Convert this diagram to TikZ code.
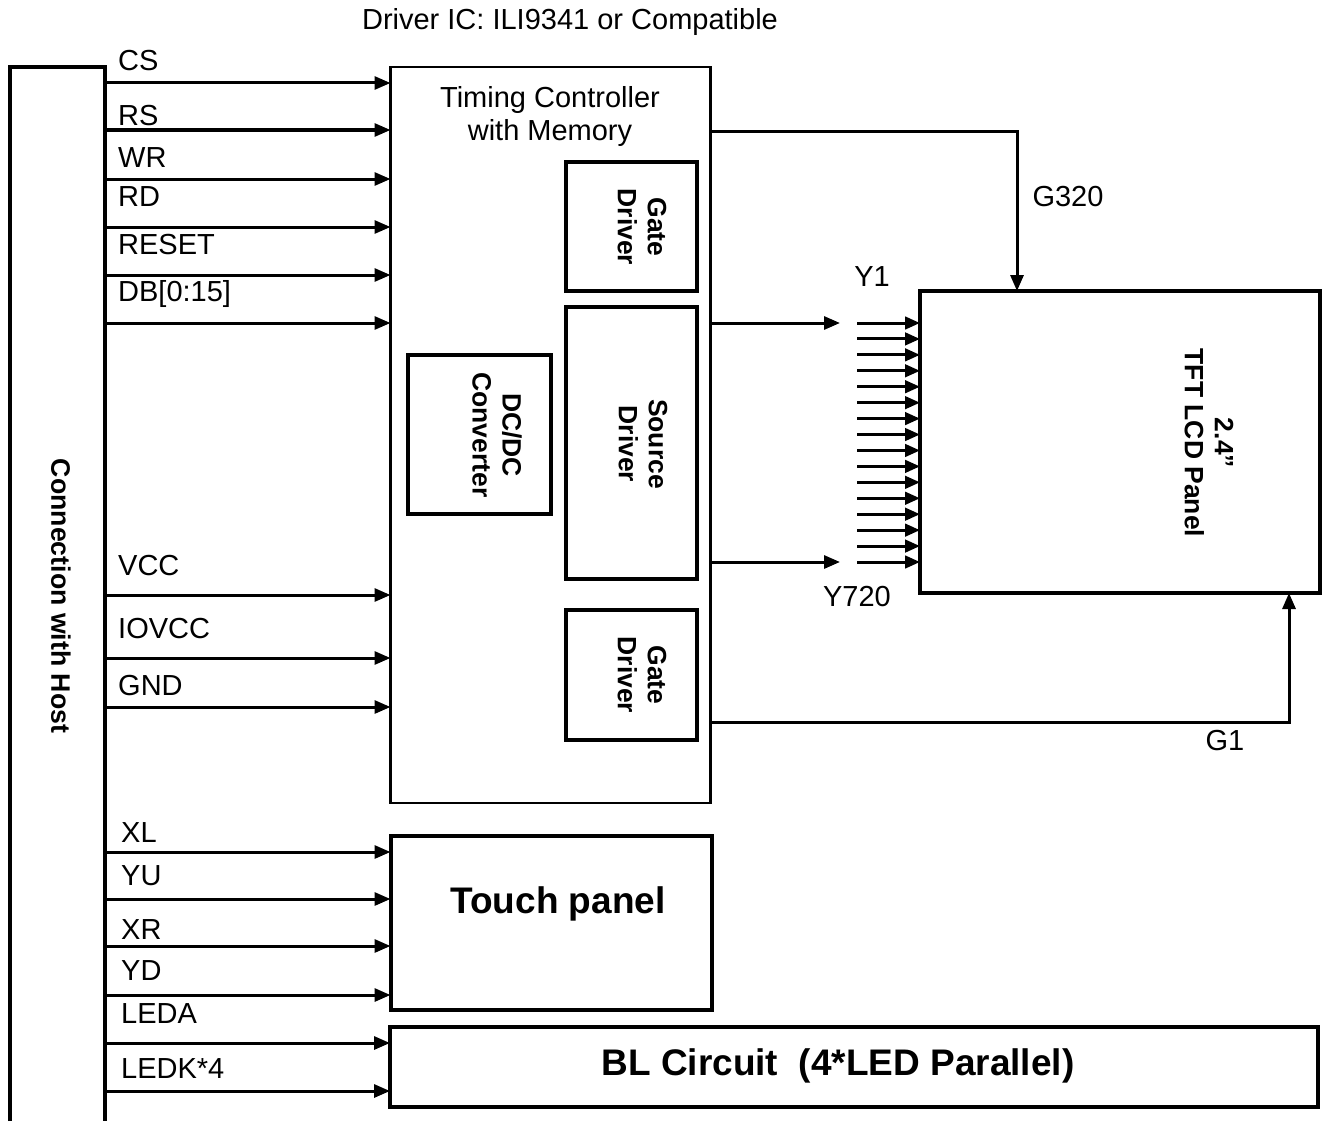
\documentclass[tikz,border=0pt]{standalone}
\usepackage{fontspec}
\setmainfont{Liberation Sans}
\usetikzlibrary{arrows.meta}
\begin{document}
\begin{tikzpicture}[x=1pt,y=-1pt,
  sig/.style={line width=3pt,-{Triangle[length=16pt,width=13pt]}},
  sigs/.style={line width=3pt,-{Triangle[length=15pt,width=12.5pt]}},
  box/.style={draw,line width=4pt,inner sep=0pt,outer sep=0pt},
  thinbox/.style={draw,line width=2.5pt,inner sep=0pt,outer sep=0pt},
  lbl/.style={font=\fontsize{29}{33}\selectfont,inner sep=0pt},
  lbll/.style={lbl,anchor=west},
  blbl/.style={font=\fontsize{26.5}{30}\selectfont\bfseries,align=center,rotate=-90,inner sep=0pt},
  big/.style={font=\fontsize{37}{42}\selectfont\bfseries,inner sep=0pt}]
\useasboundingbox (0,0) rectangle (1324,1121);
% title
\node[lbl] (title) at (570,22) {Driver IC: ILI9341 or Compatible};
% host bus
\draw[line width=4pt] (10,1121) -- (10,67) -- (105,67) -- (105,1121);
\node[blbl,font=\fontsize{26.7}{30}\selectfont\bfseries] (host) at (61,596) {Connection with Host};
% blocks
\node[thinbox,minimum width=320pt,minimum height=736pt] (ic) at (550.5,435) {};
\node[lbl,align=center] (tc) at (550,117) {Timing Controller\\with Memory};
\node[box,minimum width=131pt,minimum height=129pt] (gtop) at (631.5,226.5) {};
\node[blbl] (gtopt) at (642,227) {Gate\\Driver};
\node[box,minimum width=131pt,minimum height=272pt] (src) at (631.5,442.5) {};
\node[blbl] (srct) at (643,444) {Source\\Driver};
\node[box,minimum width=131pt,minimum height=130pt] (gbot) at (631.5,675) {};
\node[blbl] (gbott) at (642,675) {Gate\\Driver};
\node[box,minimum width=143pt,minimum height=159pt] (dcdc) at (479.5,434.5) {};
\node[blbl] (dcdct) at (497,435) {DC/DC\\Converter};
\node[box,minimum width=400pt,minimum height=302pt] (tft) at (1120,442) {};
\node[blbl] (tftt) at (1209,443) {2.4”\\TFT LCD Panel};
\node[box,minimum width=321pt,minimum height=174pt] (touch) at (551,923) {};
\node[big] (toucht) at (558,904) {Touch panel};
\node[box,minimum width=928pt,minimum height=80pt] (bl) at (854,1067) {};
\node[big] (blt) at (838,1066) {BL Circuit\ \ (4*LED Parallel)};
% host signals to IC
\foreach \y/\t/\ly [count=\k] in {83/CS/61,130/RS/116,179/WR/158,227/RD/197,275/RESET/245,323/{DB[0:15]}/294,595/VCC/566,658/IOVCC/629,707/GND/686}{
  \coordinate (h\k) at (105,\y);
  \draw[sig] (h\k) -- (h\k -| ic.west);
  \node[lbll] (l\k) at (118,\ly) {\t};
}
% host signals to touch panel
\foreach \y/\t/\ly [count=\k] in {852/XL/833,899/YU/876,946/XR/930,995/YD/971}{
  \coordinate (t\k) at (105,\y);
  \draw[sig] (t\k) -- (t\k -| touch.west);
  \node[lbll] (tl\k) at (121,\ly) {\t};
}
% backlight
\foreach \y/\t/\ly [count=\k] in {1043/LEDA/1014,1091/LEDK*4/1069}{
  \coordinate (b\k) at (105,\y);
  \draw[sig] (b\k) -- (b\k -| bl.west);
  \node[lbll] (bll\k) at (121,\ly) {\t};
}
% gate lines
\coordinate (gA) at (0,131);
\coordinate (gB) at (1017,0);
\draw[sig] (ic.east |- gA) -| (gB |- tft.north);
\node[lbl] (g320) at (1068,197) {G320};
\coordinate (gC) at (0,722);
\coordinate (gD) at (1289,0);
\draw[sig] (ic.east |- gC) -| (gD |- tft.south);
\node[lbl] (g1) at (1225,741) {G1};
% source lines
\coordinate (y1e) at (840,323);
\coordinate (y720e) at (840,562);
\draw[sig] (ic.east |- y1e) -- (y1e);
\draw[sig] (ic.east |- y720e) -- (y720e);
\node[lbl] (y1) at (872,277) {Y1};
\node[lbl] (y720) at (857,597) {Y720};
\foreach \i in {0,...,15}{
  \coordinate (s\i) at (857,{323+15.933*\i});
  \draw[sigs] (s\i) -- (s\i -| tft.west);
}
\end{tikzpicture}
\end{document}
